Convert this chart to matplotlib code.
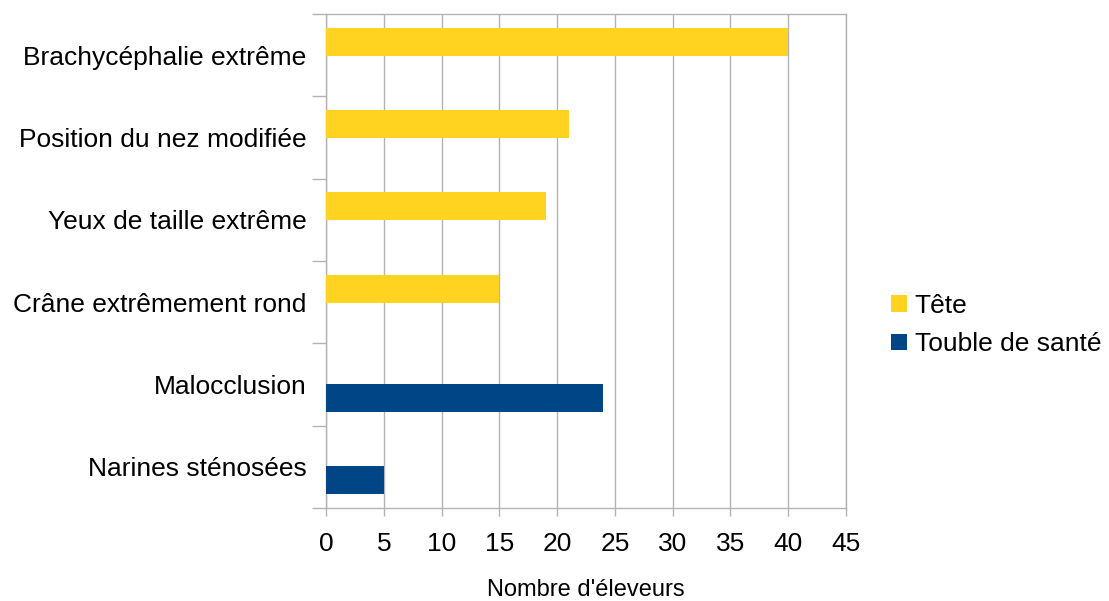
import matplotlib
matplotlib.use("Agg")
import matplotlib.pyplot as plt
import numpy as np
from matplotlib.patches import Patch

categories = ["Brachycéphalie extrême", "Position du nez modifiée", "Yeux de taille extrême",
              "Crâne extrêmement rond", "Malocclusion", "Narines sténosées"]
tete = [40, 21, 19, 15, 0, 0]
sante = [0, 0, 0, 0, 24, 5]
series_names = ["Tête", "Touble de santé"]
colors = ["#FFD320", "#004586"]
xticks = list(range(0, 50, 5))

plt.rcParams['font.family'] = ['Liberation Sans', 'DejaVu Sans']

fig = plt.figure(figsize=(11.09, 6.01), dpi=100)
ax = fig.add_axes([326/1109, 1-508/601, (846-326)/1109, (508-14)/601])

n = len(categories)
ypos = np.arange(n)[::-1].astype(float)
h = 0.34
off = 0.165
ax.barh(ypos + off, tete, height=h, color=colors[0], zorder=3)
ax.barh(ypos - off, sante, height=h, color=colors[1], zorder=3)

ax.set_xlim(0, 45)
ax.set_ylim(-0.5, n - 0.5)
ax.set_xticks(xticks)
ax.set_xticklabels([str(t) for t in xticks], fontsize=19)
ax.set_yticks(ypos)
ax.set_yticklabels(categories, fontsize=19)
ax.set_yticks(np.arange(-0.5, n, 1.0), minor=True)
ax.tick_params(axis='y', which='major', length=0, pad=14)
ax.tick_params(axis='y', which='minor', length=10, color='#b3b3b3', width=1)
ax.tick_params(axis='x', which='major', length=6, color='#b3b3b3', width=1, pad=11)
ax.grid(axis='x', color='#b3b3b3', linewidth=1, zorder=0)
for s in ax.spines.values():
    s.set_color('#b3b3b3')
    s.set_linewidth(1)

ax.set_xlabel("Nombre d'éleveurs", fontsize=17, labelpad=17)

handles = [Patch(facecolor=c, edgecolor='none') for c in colors]
fig.legend(handles, series_names, loc='center left', bbox_to_anchor=(891/1109, 1-325/601),
           frameon=False, fontsize=19, handlelength=0.6, handleheight=0.6,
           handletextpad=0.3, labelspacing=0.55, borderpad=0, borderaxespad=0)

fig.savefig("out.png", dpi=100)
